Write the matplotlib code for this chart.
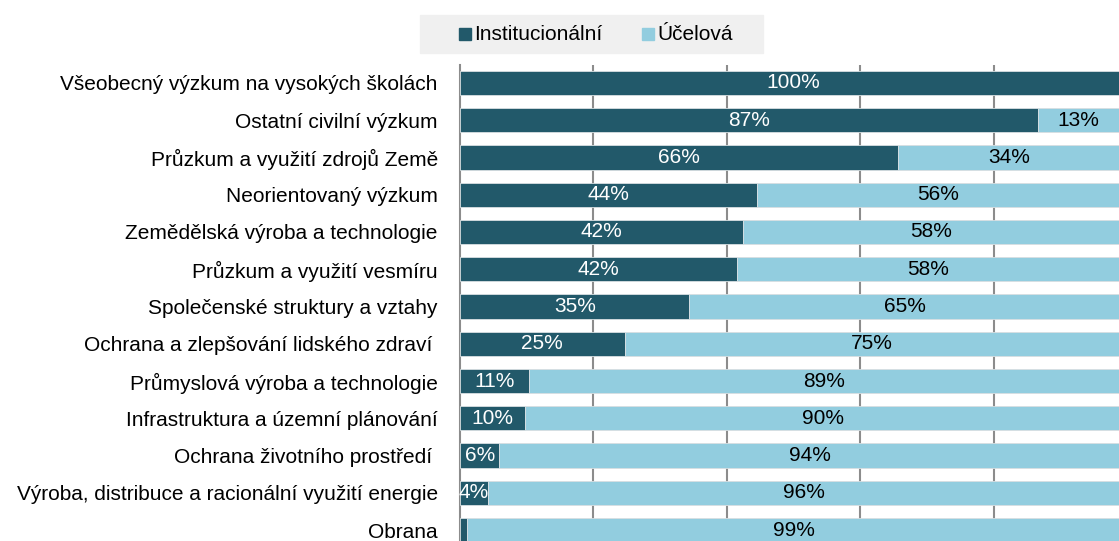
import matplotlib.pyplot as plt
from matplotlib.patches import Rectangle

plt.rcParams['font.family'] = ['Liberation Sans', 'DejaVu Sans']

categories = ["Všeobecný výzkum na vysokých školách", "Ostatní civilní výzkum",
              "Průzkum a využití zdrojů Země", "Neorientovaný výzkum",
              "Zemědělská výroba a technologie", "Průzkum a využití vesmíru",
              "Společenské struktury a vztahy", "Ochrana a zlepšování lidského zdraví ",
              "Průmyslová výroba a technologie", "Infrastruktura a územní plánování",
              "Ochrana životního prostředí ", "Výroba, distribuce a racionální využití energie",
              "Obrana"]
instit = [100, 86.6, 65.7, 44.5, 42.4, 41.5, 34.4, 24.7, 10.4, 9.8, 5.9, 4.2, 1.1]
instit_lbl = ["100%", "87%", "66%", "44%", "42%", "42%", "35%", "25%", "11%", "10%", "6%", "4%", ""]
ucel_lbl = ["", "13%", "34%", "56%", "58%", "58%", "65%", "75%", "89%", "90%", "94%", "96%", "99%"]

dark = "#22596a"
light = "#92cddf"
fs = 15

fig = plt.figure(figsize=(11.19, 5.41), dpi=100)
ax = fig.add_axes([460/1119, 0, (1127 - 460)/1119, 1 - 65/541])
y = list(range(len(categories)))
ucel = [100 - v for v in instit]

ax.barh(y, instit, height=0.65, color=dark, edgecolor="#d8dfe2", linewidth=0.6, zorder=3)
ax.barh(y, ucel, left=instit, height=0.65, color=light, edgecolor="#d8dfe2", linewidth=0.6, zorder=3)

for i in y:
    if instit_lbl[i]:
        ax.text(instit[i] / 2, i, instit_lbl[i], ha="center", va="center",
                color="white", fontsize=fs, zorder=4)
    if ucel_lbl[i]:
        # the 100 % end lies a bit past the figure edge, keep label in the visible part
        right = min(100, 98.9)
        ax.text((instit[i] + right) / 2, i, ucel_lbl[i], ha="center", va="center",
                color="black", fontsize=fs, zorder=4)

ax.set_xlim(0, 100)
ax.set_ylim(12.295, -0.483)
ax.set_yticks(y)
ax.set_yticklabels(categories, fontsize=fs)
ax.tick_params(axis="y", length=0, pad=16)
ax.set_xticks([20, 40, 60, 80])
ax.tick_params(axis="x", length=0, labelbottom=False)
ax.grid(axis="x", color="#8c8c8c", linewidth=1.5, zorder=0)
for s in ["top", "right", "bottom"]:
    ax.spines[s].set_visible(False)
ax.spines["left"].set_color("#8c8c8c")
ax.spines["left"].set_linewidth(1.5)

# legend
fig.patches.append(Rectangle((420/1119, 1 - 53/541), 343/1119, 38/541,
                             transform=fig.transFigure, color="#f0f0f0", zorder=0))
fig.patches.append(Rectangle((459/1119, 1 - 40/541), 12/1119, 12/541,
                             transform=fig.transFigure, color=dark))
fig.text(474/1119, 1 - 34/541, "Institucionální", fontsize=fs, va="center")
fig.patches.append(Rectangle((642/1119, 1 - 40/541), 12/1119, 12/541,
                             transform=fig.transFigure, color=light))
fig.text(657/1119, 1 - 34/541, "Účelová", fontsize=fs, va="center")

plt.savefig("out.png", dpi=100)
